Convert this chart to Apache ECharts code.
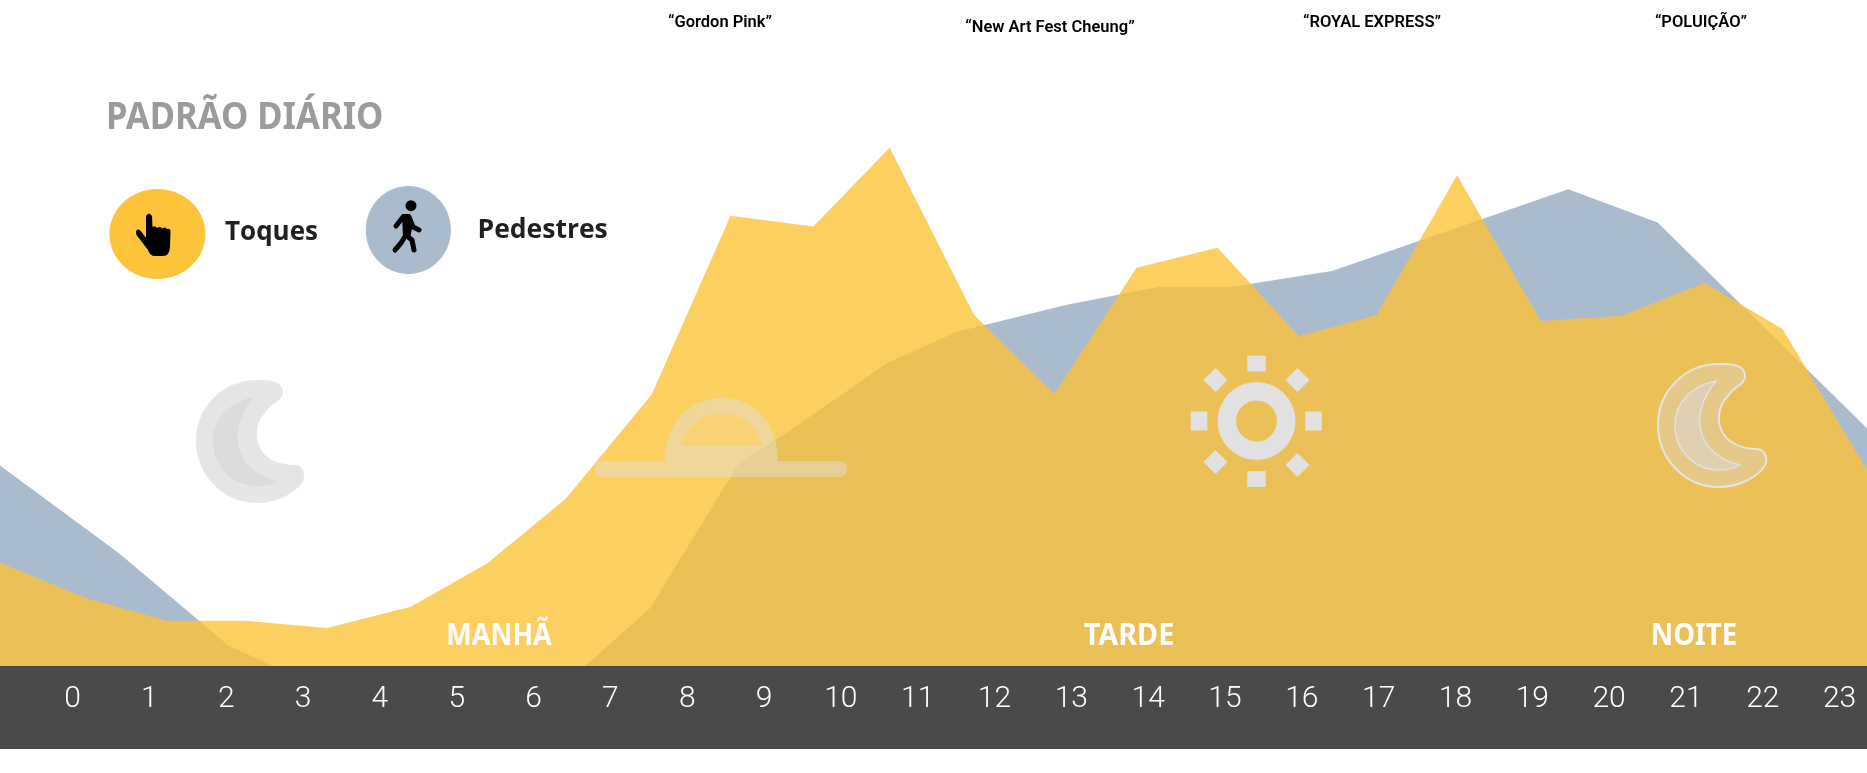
<!DOCTYPE html>
<html>
<head>
<meta charset="utf-8">
<style>
  html, body { margin: 0; padding: 0; background: #fff; }
  #chart { width: 1867px; height: 773px; }
</style>
<script src="https://cdn.jsdelivr.net/npm/echarts@6/dist/echarts.min.js"></script>
</head>
<body>
<div id="chart"></div>
<script>
// values, on a 0-100 index
const hourLabels = ['0','1','2','3','4','5','6','7','8','9','10','11','12','13','14','15','16','17','18','19','20','21','22','23'];
const touchHours = [0,1.06,2.05,3.01,4.03,5.06,6,6.97,8.03,9,10.02,10.96,12,12.99,14,15,16,16.96,17.95,18.98,19.98,21,21.96,23];
const touchValues = [15.5,10.2,6.8,6.8,5.7,8.9,15.4,25.1,40.8,67.6,66.0,77.8,52.7,40.8,59.8,62.8,49.5,52.7,73.7,51.8,52.6,57.5,50.6,29.4];
const walkerHours = [0,1.47,2.81,3.36,7.21,8.01,9.09,9.83,10.93,11.79,13.13,14.27,15.16,16.41,19.32,20.42,23];
const walkerValues = [30.1,16.9,3.1,0,0,8.7,30.2,36.2,45.5,50.2,54.2,56.9,56.9,59.3,71.6,66.6,35.7];
const songLabels = ['“Gordon Pink”','“New Art Fest Cheung”','“ROYAL EXPRESS”','“POLUIÇÃO”'];
const periodLabels = ['MANHÃ','TARDE','NOITE'];
const legendLabels = ['Toques','Pedestres'];

// the graphic component has no plain 'path' type, so icons get registered as shapes
const addIcon = (name, pathData) => {
  echarts.graphic.registerShape(name, echarts.graphic.extendPath(pathData, {}));
};
addIcon('moonOuter', 'M0 -61 C8 -61 26 -62 26 -49 C26 -40 16 -40 8 -28 C-6 -14 -5 22 36 24 C46 23 50 34 45 42 C36 54 18 62 0 62 C-34 62 -61 34 -61 0 C-61 -34 -34 -61 0 -61 Z');
addIcon('moonInner', 'M-3 -44 C-25 -40 -44 -24 -44 0 C-44 26 -24 45 0 45 C8 45 15 44 21 40 C-16 32 -35 -4 -3 -44 Z');
addIcon('domeOuter', 'M603 461 L665 461 C665 423 690 398 722 398 C754 398 778 423 778 461 L839 461 C850 461 850 477 839 477 L603 477 C592 477 592 461 603 461 Z ' +
  'M681 446 L762 446 C758 427 742 413 722 413 C702 413 686 427 681 446 Z');
addIcon('domeInner', 'M681 446 C686 427 702 413 722 413 C742 413 758 427 762 446 Z');
addIcon('hand', 'M146 216 Q149 211 152 216 L152.5 227 Q155 225 157 228 Q160 226 162 228.5 Q165 226.5 167 229 Q170.5 228 170.5 232 L170 247 Q169.5 256 163 256 L155 256 Q150 256 148 250 L136.5 235 Q135 230 138 229.5 Q140 229 143 234 L146 238 Z');

const songText = (i, x, y) => ({
  type: 'text', z: 20, x: x, y: y,
  style: { text: songLabels[i], fill: '#000', font: '600 16.5px Roboto', textAlign: 'center', textVerticalAlign: 'bottom' }
});
const periodText = (i, x, sx) => ({
  type: 'text', z: 20, x: x, y: 651, scaleX: sx,
  style: { text: periodLabels[i], fill: '#fff', font: 'bold 30px "Noto Sans"', textAlign: 'center', textVerticalAlign: 'bottom' }
});
const ray = (x, y, w, h, rot) => ({
  type: 'rect', z: 20, x: x, y: y, rotation: rot || 0,
  shape: { x: -w / 2, y: -h / 2, width: w, height: h },
  style: { fill: '#E1E1E1' }
});
const limb = (points) => ({
  type: 'polyline', z: 21,
  shape: { points: points },
  style: { stroke: '#000', lineWidth: 5, lineCap: 'round', lineJoin: 'round', fill: null }
});

const myChart = echarts.init(document.getElementById('chart'));

const option = {
  animation: false,
  grid: [
    { left: 0, width: 1867, top: 0, height: 666 },
    { left: 72.6, width: 1767, top: 666, height: 83 }
  ],
  xAxis: [
    { type: 'value', gridIndex: 0, min: 0, max: 23, show: false },
    {
      type: 'category', gridIndex: 1, position: 'top', boundaryGap: false, data: hourLabels,
      axisLine: { show: false }, axisTick: { show: false },
      axisLabel: { inside: true, interval: 0, margin: 18, color: '#fff', fontFamily: 'Roboto', fontWeight: 300, fontSize: 30 }
    }
  ],
  yAxis: [
    { type: 'value', gridIndex: 0, min: 0, max: 100, show: false },
    { type: 'value', gridIndex: 1, show: false }
  ],
  series: [
    {
      name: 'Pedestres', type: 'line', xAxisIndex: 0, yAxisIndex: 0, symbol: 'none', z: 2,
      lineStyle: { width: 0 }, areaStyle: { color: '#ABBBCE', opacity: 1 },
      data: walkerHours.map((h, i) => [h, walkerValues[i]])
    },
    {
      name: 'Toques', type: 'line', xAxisIndex: 0, yAxisIndex: 0, symbol: 'none', z: 3,
      lineStyle: { width: 0 }, areaStyle: { color: '#FBC33A', opacity: 0.8 },
      data: touchHours.map((h, i) => [h, touchValues[i]])
    }
  ],
  graphic: [
    { type: 'rect', z: -1, shape: { x: 0, y: 666, width: 1867, height: 83 }, style: { fill: '#4A4A4A' } },

    songText(0, 720, 31),
    songText(1, 1050, 36),
    songText(2, 1372, 31),
    songText(3, 1701, 31),

    {
      type: 'text', z: 20, x: 106, y: 137, scaleX: 0.91,
      style: { text: 'PADRÃO DIÁRIO', fill: '#9B9B9B', font: 'bold 38px "Noto Sans"', textVerticalAlign: 'bottom' }
    },

    { type: 'ellipse', z: 20, shape: { cx: 157.4, cy: 234, rx: 48, ry: 45 }, style: { fill: '#FDC33B' } },
    { type: 'hand', z: 21, style: { fill: '#000' } },
    { type: 'text', z: 20, x: 225, y: 246, style: { text: legendLabels[0], fill: '#231F20', font: 'bold 26px "Open Sans"', textVerticalAlign: 'bottom' } },

    { type: 'ellipse', z: 20, shape: { cx: 408.3, cy: 230, rx: 42.6, ry: 44 }, style: { fill: '#ABBBCE' } },
    { type: 'circle', z: 21, shape: { cx: 411, cy: 205.7, r: 5.5 }, style: { fill: '#000' } },
    { type: 'polygon', z: 21, shape: { points: [[402, 214], [410, 214], [413, 224], [410, 238], [403, 238]] }, style: { fill: '#000' } },
    limb([[409, 217], [413, 227], [419, 230]]),
    limb([[403, 217], [396, 226]]),
    limb([[407, 236], [412, 240], [414, 250]]),
    limb([[404, 238], [401, 243], [395, 250]]),
    { type: 'text', z: 20, x: 477.5, y: 244, style: { text: legendLabels[1], fill: '#231F20', font: 'bold 26.5px "Open Sans"', textVerticalAlign: 'bottom' } },

    // night moon, left
    { type: 'moonOuter', z: 20, x: 257, y: 441, style: { fill: '#E6E6E6' } },
    { type: 'moonInner', z: 21, x: 257, y: 441, style: { fill: '#DCDCDC' } },

    // sunrise
    { type: 'domeOuter', z: 20, style: { fill: 'rgba(225,225,225,0.45)' } },
    { type: 'domeInner', z: 20, style: { fill: 'rgba(225,225,225,0.15)' } },

    // sun
    { type: 'ring', z: 20, shape: { cx: 1256.5, cy: 421, r: 39, r0: 20.5 }, style: { fill: '#E1E1E1' } },
    ray(1256.5, 363.5, 18.5, 15.7),
    ray(1256.5, 479, 18.5, 15.7),
    ray(1199, 421, 16.6, 19),
    ray(1313.5, 421, 16.6, 19),
    ray(1215.5, 380, 17, 17, Math.PI / 4),
    ray(1297.5, 380, 17, 17, Math.PI / 4),
    ray(1215.5, 462, 17, 17, Math.PI / 4),
    ray(1297.5, 465, 17, 17, Math.PI / 4),

    // night moon, right
    { type: 'moonOuter', z: 20, x: 1719, y: 425, style: { fill: 'rgba(214,214,225,0.35)', stroke: '#E4E4E4', lineWidth: 2 } },
    { type: 'moonInner', z: 21, x: 1719, y: 425, style: { fill: 'rgba(214,214,235,0.4)', stroke: '#E0E0E0', lineWidth: 1.5 } },

    periodText(0, 499, 0.9),
    periodText(1, 1129, 0.96),
    periodText(2, 1694, 0.92)
  ]
};

myChart.setOption(option);
</script>
</body>
</html>
